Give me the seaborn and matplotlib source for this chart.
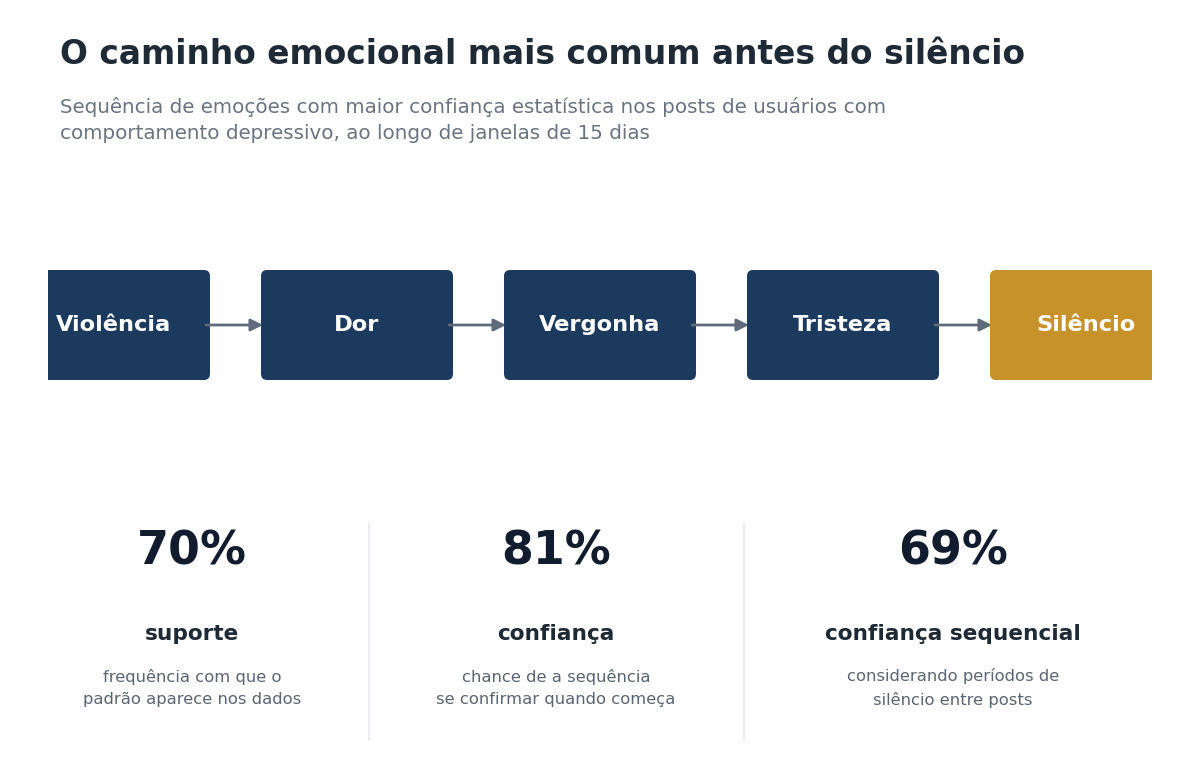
import matplotlib
matplotlib.use("Agg")
import matplotlib.pyplot as plt
from matplotlib.patches import FancyBboxPatch
import seaborn as sns

# --- DATA ---
steps = ["Violência", "Dor", "Vergonha", "Tristeza", "Silêncio"]
stat_values = ["70%", "81%", "69%"]
stat_names = ["suporte", "confiança", "confiança sequencial"]
stat_notes = [
    "frequência com que o\npadrão aparece nos dados",
    "chance de a sequência\nse confirmar quando começa",
    "considerando períodos de\nsilêncio entre posts",
]

title = "O caminho emocional mais comum antes do silêncio"
subtitle = ("Sequência de emoções com maior confiança estatística nos posts de usuários com\n"
            "comportamento depressivo, ao longo de janelas de 15 dias")

NAVY = "#1c3a5e"
GOLD = "#c8922a"
ARROW = "#5f6b7a"

sns.set_theme(style="white")
plt.rcParams["font.family"] = ["DejaVu Sans"]

W, H = 1200, 775
fig = plt.figure(figsize=(W / 100, H / 100), dpi=100)
fig.patch.set_facecolor("white")


def fx(px):
    return px / W


def fy(py):
    return 1 - py / H


# --- TITLE ---
fig.text(fx(60), fy(55), title, fontsize=23.7, fontweight="bold", color="#1f2a37",
         ha="left", va="center")
fig.text(fx(60), fy(120), subtitle, fontsize=14.3, color="#6b7280",
         ha="left", va="center", linespacing=1.42)

# --- FLOW ---
ax = fig.add_axes([fx(48), fy(400), fx(1104), 150 / H])
spacing_px = 243
ax.set_xlim((48 - 114) / spacing_px, len(steps) - 1 + (1152 - 1086) / spacing_px)
ax.set_ylim(0, 1)
ax.axis("off")

box_w = 192 / spacing_px
y0, y1 = 20 / 150, 130 / 150
aspect = spacing_px / 150
for i, name in enumerate(steps):
    color = GOLD if i == len(steps) - 1 else NAVY
    patch = FancyBboxPatch((i - box_w / 2, y0), box_w, y1 - y0,
                           boxstyle="round,pad=0,rounding_size=0.025",
                           mutation_aspect=aspect, fc=color, ec="none",
                           clip_on=True)
    ax.add_patch(patch)
    ax.text(i, 0.5, name, color="white", fontsize=16.2, fontweight="bold",
            ha="center", va="center")
    if i < len(steps) - 1:
        ax.annotate("", xy=(i + 1 - box_w / 2 + 0.008, 0.5),
                    xytext=(i + box_w / 2 - 0.016, 0.5),
                    arrowprops=dict(arrowstyle="-|>", color=ARROW, lw=2,
                                    mutation_scale=18, shrinkA=0, shrinkB=0))

# --- STATS ---
col_centers = [192, 556, 953]
dividers = [369, 744]
for xd in dividers:
    fig.add_artist(plt.Line2D([fx(xd), fx(xd)], [fy(523), fy(740)],
                              color="#e5e7eb", lw=1.2))

for cx, val, name, note in zip(col_centers, stat_values, stat_names, stat_notes):
    fig.text(fx(cx), fy(552), val, fontsize=33, fontweight="bold", color="#111c2e",
             ha="center", va="center")
    fig.text(fx(cx), fy(634), name, fontsize=15.6, fontweight="bold", color="#1f2a37",
             ha="center", va="center")
    fig.text(fx(cx), fy(688), note, fontsize=11.8, color="#5b6472",
             ha="center", va="center", linespacing=1.6)

fig.savefig("out.png", dpi=100, facecolor="white")
